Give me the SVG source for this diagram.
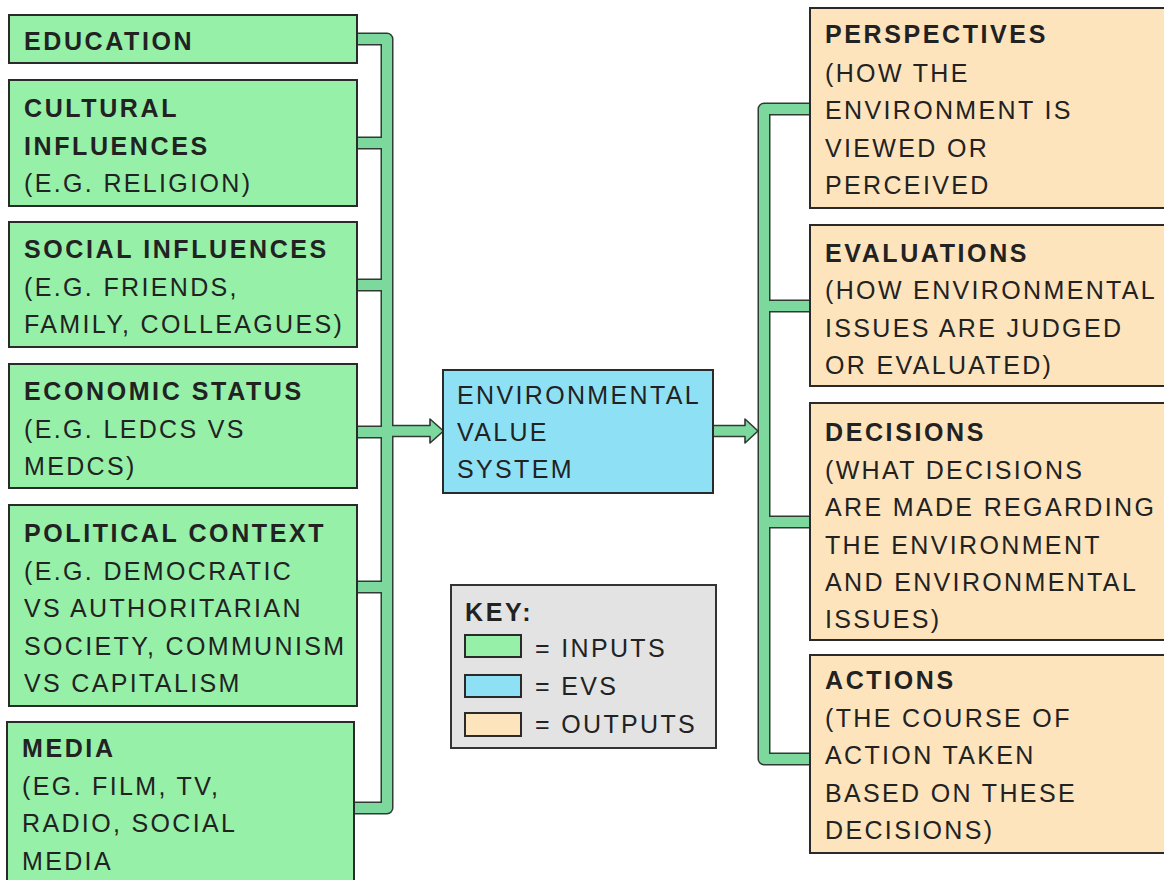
<svg xmlns="http://www.w3.org/2000/svg" width="1164" height="880" viewBox="0 0 1164 880">
<style>
text{font-family:"Liberation Sans",Arial,sans-serif;font-size:25px;fill:#222;letter-spacing:2.35px}
.b{font-weight:bold;letter-spacing:2.6px}
.in{fill:#96f0a8;stroke:#2a2a2a;stroke-width:2}
.ev{fill:#8ee1f5;stroke:#2a2a2a;stroke-width:2}
.out{fill:#fde4bc;stroke:#2a2a2a;stroke-width:2}
.pd{fill:none;stroke:#2f3a33;stroke-width:13;stroke-linejoin:round}
.pg{fill:none;stroke:#7dd89e;stroke-width:10;stroke-linejoin:round}
.ar{fill:#7dd89e;stroke:#2f3a33;stroke-width:1.6;stroke-linejoin:round}
</style>
<rect width="1164" height="880" fill="#ffffff"/>
<g id="connectors">
<path class="pd" d="M350 39 H387 V808 H350 M350 143 H387 M350 285 H387 M350 432 H387 M350 587 H387 M818 109 H764 V759 H818 M818 306 H764 M818 522 H764"/>
<polygon class="ar" points="387,425.5 430,425.5 430,419 443.5,431 430,443 430,436.5 387,436.5"/>
<polygon class="ar" points="712,425.5 745,425.5 745,419 758,431 745,443 745,436.5 712,436.5"/>
<path class="pg" d="M350 39 H387 V808 H350 M350 143 H387 M350 285 H387 M350 432 H387 M350 587 H387 M818 109 H764 V759 H818 M818 306 H764 M818 522 H764"/>
</g>
<g id="education"><rect class="in" x="9" y="15" width="348" height="48"/><text class="b" x="24" y="50">EDUCATION</text></g>
<g id="cultural"><rect class="in" x="9" y="80" width="348" height="126"/><text class="b" x="24" y="117">CULTURAL</text><text class="b" x="24" y="155">INFLUENCES</text><text x="24" y="192">(E.G. RELIGION)</text></g>
<g id="social"><rect class="in" x="9" y="222" width="348" height="125"/><text class="b" x="24" y="258">SOCIAL INFLUENCES</text><text x="24" y="296">(E.G. FRIENDS,</text><text x="24" y="333">FAMILY, COLLEAGUES)</text></g>
<g id="economic"><rect class="in" x="9" y="364" width="348" height="124"/><text class="b" x="24" y="400">ECONOMIC STATUS</text><text x="24" y="438">(E.G. LEDCS VS</text><text x="24" y="475">MEDCS)</text></g>
<g id="political"><rect class="in" x="9" y="505" width="348" height="201"/><text class="b" x="24" y="542">POLITICAL CONTEXT</text><text x="24" y="580">(E.G. DEMOCRATIC</text><text x="24" y="617">VS AUTHORITARIAN</text><text x="24" y="655">SOCIETY, COMMUNISM</text><text x="24" y="692">VS CAPITALISM</text></g>
<g id="media"><rect class="in" x="7" y="722" width="347" height="170"/><text class="b" x="22" y="757">MEDIA</text><text x="22" y="795">(EG. FILM, TV,</text><text x="22" y="832">RADIO, SOCIAL</text><text x="22" y="870">MEDIA</text></g>
<g id="evs"><rect class="ev" x="443" y="370" width="270" height="123"/><text x="457" y="404">ENVIRONMENTAL</text><text x="457" y="441">VALUE</text><text x="457" y="478">SYSTEM</text></g>
<g id="perspectives"><rect class="out" x="810" y="8" width="360" height="200"/><text class="b" x="825" y="43">PERSPECTIVES</text><text x="825" y="82">(HOW THE</text><text x="825" y="119">ENVIRONMENT IS</text><text x="825" y="157">VIEWED OR</text><text x="825" y="194">PERCEIVED</text></g>
<g id="evaluations"><rect class="out" x="810" y="225" width="360" height="161"/><text class="b" x="825" y="262">EVALUATIONS</text><text x="825" y="299">(HOW ENVIRONMENTAL</text><text x="825" y="337">ISSUES ARE JUDGED</text><text x="825" y="374">OR EVALUATED)</text></g>
<g id="decisions"><rect class="out" x="810" y="403" width="360" height="237"/><text class="b" x="825" y="441">DECISIONS</text><text x="825" y="479">(WHAT DECISIONS</text><text x="825" y="516">ARE MADE REGARDING</text><text x="825" y="554">THE ENVIRONMENT</text><text x="825" y="591">AND ENVIRONMENTAL</text><text x="825" y="628">ISSUES)</text></g>
<g id="actions"><rect class="out" x="810" y="655" width="360" height="198"/><text class="b" x="825" y="689">ACTIONS</text><text x="825" y="727">(THE COURSE OF</text><text x="825" y="764">ACTION TAKEN</text><text x="825" y="802">BASED ON THESE</text><text x="825" y="839">DECISIONS)</text></g>
<g id="key"><rect x="451" y="585" width="265" height="163" fill="#e3e3e3" stroke="#333" stroke-width="2"/><text class="b" x="465" y="621">KEY:</text>
<rect class="in" x="465" y="635" width="56" height="22"/><text x="535" y="657">= INPUTS</text>
<rect class="ev" x="465" y="675" width="56" height="22"/><text x="535" y="695">= EVS</text>
<rect class="out" x="465" y="713" width="56" height="23"/><text x="535" y="733">= OUTPUTS</text></g>
</svg>
